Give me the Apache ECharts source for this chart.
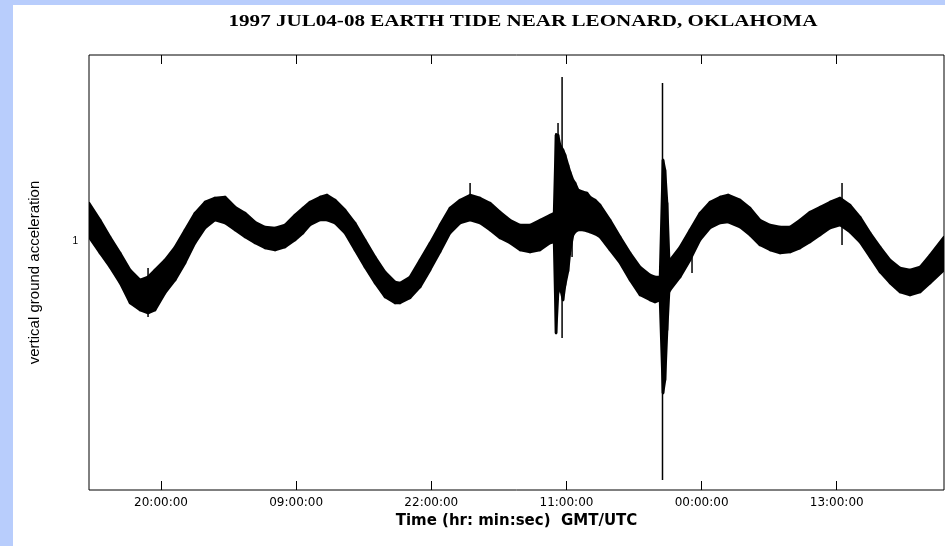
<!DOCTYPE html>
<html><head><meta charset="utf-8">
<script src="https://cdn.jsdelivr.net/npm/echarts@6/dist/echarts.min.js"></script>
<style>html,body{margin:0;padding:0;background:#fff}#c{width:945px;height:546px}</style>
</head><body><div id="c"></div>
<script>
// Time in hours since 1997-07-04 00:00 UTC
const timesHr = [13.07,14.13,15.09,16.06,17.02,17.98,18.75,19.42,20.38,21.35,22.31,23.27,24.23,25.19,26.16,27.12,28.08,29.04,30.00,30.97,31.93,32.89,33.66,34.33,35.30,35.97,36.74,37.70,38.66,39.62,40.59,41.55,42.51,42.99,43.95,44.92,45.88,46.84,47.80,48.76,49.73,50.69,51.65,52.61,53.57,54.54,55.50,56.46,57.42,57.81,58.00,58.19,58.38,58.67,58.87,59.15,59.35,59.63,59.83,60.12,60.60,60.98,61.27,61.75,62.23,63.19,64.16,65.12,66.08,67.04,67.52,68.00,68.29,68.48,68.68,68.87,68.97,69.93,70.89,71.85,72.81,73.78,74.55,75.70,76.66,77.62,78.59,79.55,80.51,81.47,82.43,83.40,84.36,85.32,86.28,87.24,88.21,89.17,90.13,91.09,92.05,93.02,93.98,95.32];
// upper / lower envelope of the recorded trace (relative units)
const upperVals = [1.38,1.21,1.04,0.88,0.71,0.61,0.64,0.71,0.81,0.94,1.11,1.28,1.39,1.43,1.44,1.34,1.28,1.19,1.14,1.13,1.16,1.26,1.33,1.39,1.44,1.46,1.41,1.31,1.18,1.01,0.84,0.69,0.59,0.58,0.64,0.81,0.98,1.16,1.33,1.41,1.46,1.43,1.38,1.29,1.21,1.16,1.16,1.21,1.26,1.28,2.06,2.06,1.96,1.91,1.86,1.76,1.69,1.61,1.58,1.51,1.49,1.48,1.44,1.41,1.36,1.21,1.04,0.88,0.74,0.66,0.64,0.64,1.81,1.71,1.38,0.83,0.81,0.94,1.11,1.28,1.39,1.44,1.46,1.41,1.33,1.21,1.16,1.14,1.14,1.21,1.29,1.34,1.39,1.43,1.36,1.24,1.08,0.94,0.81,0.73,0.71,0.74,0.86,1.04];
const lowerVals = [1.04,0.88,0.74,0.58,0.38,0.31,0.28,0.31,0.48,0.61,0.78,0.98,1.13,1.21,1.18,1.11,1.04,0.98,0.93,0.91,0.94,1.01,1.08,1.16,1.21,1.21,1.18,1.08,0.91,0.74,0.58,0.44,0.38,0.38,0.43,0.54,0.71,0.89,1.08,1.18,1.21,1.18,1.11,1.03,0.98,0.91,0.89,0.91,0.98,0.99,0.08,0.48,0.54,0.41,0.56,0.70,0.90,1.06,1.09,1.11,1.11,1.10,1.09,1.07,1.04,0.91,0.78,0.61,0.46,0.41,0.39,0.41,-0.52,-0.39,0.11,0.49,0.51,0.64,0.81,1.01,1.13,1.18,1.19,1.14,1.06,0.96,0.91,0.88,0.89,0.93,0.99,1.06,1.13,1.16,1.09,0.99,0.84,0.69,0.58,0.49,0.46,0.49,0.58,0.71];
// isolated spikes (earthquake arrivals, glitches)
const spikeTimes  = [18.75,49.73,58.00,58.19,58.58,59.54,68.24,71.08,85.51];
const spikeTop    = [0.73,1.58,2.08,2.18,2.64,1.01,2.58,0.86,1.58];
const spikeBottom = [0.24,1.21,0.08,0.41,0.03,0.84,-1.39,0.68,0.96];
const tickHours  = [20,33,46,59,72,85];
const tickLabels = ['20:00:00','09:00:00','22:00:00','11:00:00','00:00:00','13:00:00'];
const yTickValues = [1];
const yTickLabels = ['1'];

const xMin = 13.07, xMax = 95.32, yMin = -1.49, yMax = 2.86;

const bandData = timesHr.map((t,i)=>[t, upperVals[i], lowerVals[i]]);
const spikeData = spikeTimes.map((t,i)=>[t, spikeTop[i], spikeBottom[i]]);

const chart = echarts.init(document.getElementById('c'));
const tickAxisCommon = {
  type: 'value', min: xMin, max: xMax,
  axisLine: {show: false, onZero: false}, splitLine: {show: false},
  axisTick: {show: true, inside: true, length: 9, customValues: tickHours, lineStyle: {color: '#000', width: 1}}
};
chart.setOption({
  animation: false,
  backgroundColor: '#fff',
  graphic: [
    {type: 'rect', shape: {x: 0, y: 0, width: 13, height: 546}, style: {fill: '#b8cdfc'}, silent: true},
    {type: 'rect', shape: {x: 0, y: 0, width: 945, height: 5}, style: {fill: '#b8cdfc'}, silent: true},
    {type: 'text', x: 523, y: 22, scaleX: 1.24, style: {text: '1997 JUL04-08 EARTH TIDE NEAR LEONARD, OKLAHOMA', fill: '#000', font: 'bold 17px "Liberation Serif", serif', textAlign: 'center', textVerticalAlign: 'middle'}}
  ],
  grid: {left: 89, right: 1, top: 55, bottom: 56, show: true, borderColor: '#000', borderWidth: 1, backgroundColor: 'transparent', outerBoundsMode: 'none'},
  xAxis: [
    Object.assign({}, tickAxisCommon, {
      position: 'bottom',
      name: 'Time (hr: min:sec)  GMT/UTC', nameLocation: 'middle', nameGap: 24,
      nameTextStyle: {fontFamily: 'DejaVu Sans', fontWeight: 'bold', fontSize: 15, color: '#000'},
      axisLabel: {show: true, customValues: tickHours, margin: 7, fontFamily: 'DejaVu Sans', fontSize: 12, color: '#000',
        formatter: (v)=>{ const i = tickHours.indexOf(Math.round(v)); return i >= 0 ? tickLabels[i] : ''; }}
    }),
    Object.assign({}, tickAxisCommon, {position: 'top', axisLabel: {show: false}})
  ],
  yAxis: {
    type: 'value', min: yMin, max: yMax,
    axisLine: {show: false, onZero: false}, splitLine: {show: false}, axisTick: {show: false},
    axisLabel: {show: true, customValues: yTickValues, margin: 11, fontFamily: 'Liberation Sans', fontSize: 10, color: '#000',
      formatter: (v)=>{ const i = yTickValues.indexOf(v); return i >= 0 ? yTickLabels[i] : ''; }},
    name: 'vertical ground acceleration', nameLocation: 'middle', nameGap: 47,
    nameTextStyle: {fontFamily: 'Liberation Sans', fontSize: 15, color: '#000'}
  },
  series: [
    {
      type: 'custom', data: bandData, z: 3, clip: true,
      renderItem: (params, api) => {
        const i = params.dataIndex;
        if (i >= bandData.length - 1) return null;
        const a = bandData[i], b = bandData[i + 1];
        const pts = [api.coord([a[0], a[1]]), api.coord([b[0], b[1]]), api.coord([b[0], b[2]]), api.coord([a[0], a[2]])];
        return {type: 'polygon', shape: {points: pts}, style: {fill: '#000', stroke: '#000', lineWidth: 2.5, lineJoin: 'round'}};
      }
    },
    {
      type: 'custom', data: spikeData, z: 4, clip: true,
      renderItem: (params, api) => {
        const p1 = api.coord([api.value(0), api.value(1)]);
        const p2 = api.coord([api.value(0), api.value(2)]);
        return {type: 'line', shape: {x1: p1[0], y1: p1[1], x2: p2[0], y2: p2[1]}, style: {stroke: '#000', lineWidth: 1.5}};
      }
    }
  ]
});
</script></body></html>
